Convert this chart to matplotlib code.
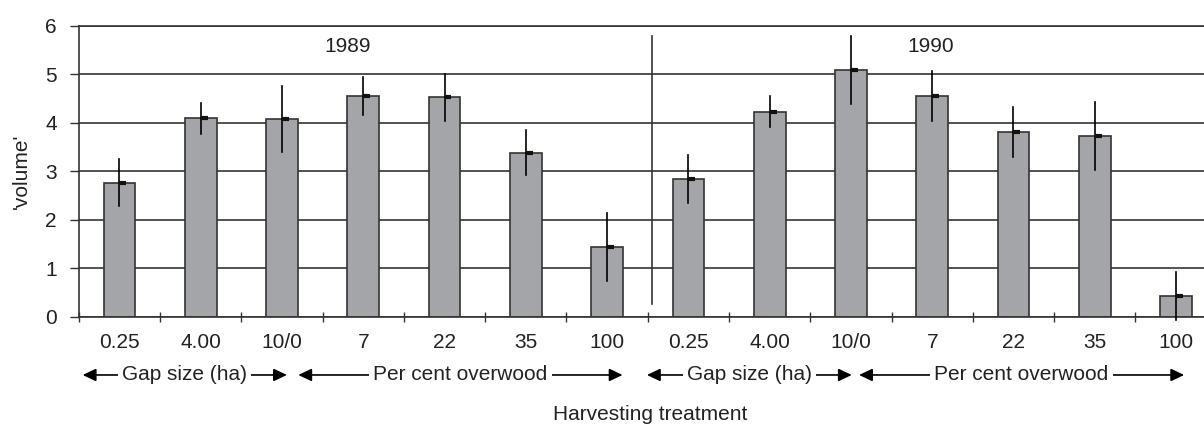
import matplotlib.pyplot as plt
import matplotlib.transforms as mtransforms

plt.rcParams['font.family'] = ['Liberation Sans', 'DejaVu Sans']

# Treatments per year: three gap sizes then four overwood retention levels
treatments = ['0.25', '4.00', '10/0', '7', '22', '35', '100']
years = ['1989', '1990']

volume_1989 = [2.76, 4.09, 4.07, 4.55, 4.52, 3.38, 1.44]
volume_1990 = [2.84, 4.22, 5.09, 4.55, 3.81, 3.73, 0.42]
se_1989 = [0.48, 0.32, 0.68, 0.39, 0.48, 0.47, 0.70]
se_1990 = [0.50, 0.32, 0.70, 0.51, 0.51, 0.70, 0.50]

volumes = volume_1989 + volume_1990
errors = se_1989 + se_1990
labels = treatments + treatments
n = len(volumes)
x = [i + 0.5 for i in range(n)]

ink = '#333333'
bar_grey = '#a4a5a9'

fig = plt.figure(figsize=(12.04, 4.26), dpi=100)
ax = fig.add_axes([0.0655, 0.257, 0.9345, 0.6827])

ax.bar(x, volumes, width=0.39, color=bar_grey, edgecolor=ink, linewidth=1.2, zorder=2)

# standard error whiskers and a short mean tick on each bar
for xi, v, e in zip(x, volumes, errors):
    ax.plot([xi, xi], [v - e, v + e], color='black', lw=1.2, zorder=3, clip_on=False)
ax.hlines(volumes, [xi for xi in x], [xi + 0.085 for xi in x], color='#111111', lw=3.0, zorder=4)

ax.set_xlim(0, 13.844)
ax.set_ylim(0, 6)
ax.set_yticks(range(0, 7))
ax.yaxis.grid(True, color=ink, lw=1.2, zorder=0)
ax.set_axisbelow(True)

ax.spines['right'].set_visible(False)
for side in ['left', 'bottom', 'top']:
    ax.spines[side].set_color(ink)
    ax.spines[side].set_linewidth(1.2)

ax.tick_params(axis='y', direction='out', length=6.3, width=1.0, color=ink,
               labelsize=15, pad=9.5, labelcolor='#222222')

# category boundaries get tick marks, labels sit between them
ax.set_xticks(range(0, n))
ax.set_xticklabels([])
ax.tick_params(axis='x', which='major', direction='inout', length=6.5, width=1.0, color=ink)
ax.set_xticks(x, labels, minor=True)
ax.tick_params(axis='x', which='minor', length=0, labelsize=15, pad=12, labelcolor='#222222')

# divider between the two years
ax.plot([7.055, 7.055], [0.25, 5.79], color=ink, lw=1.2, zorder=1)
ax.text(3.305, 5.57, years[0], ha='center', va='center', fontsize=15, color='#222222')
ax.text(10.485, 5.57, years[1], ha='center', va='center', fontsize=15, color='#222222')

ax.set_ylabel("'volume'", fontsize=15, color='#222222')
ax.yaxis.set_label_coords(-0.043, 0.5)
ax.set_xlabel('Harvesting treatment', fontsize=15, color='#222222', va='top')
ax.xaxis.set_label_coords(0.508, -0.305)

# group brackets under the tick labels
trans = mtransforms.blended_transform_factory(ax.transData, ax.transAxes)
arrow_y = -0.201
groups = [(0.047, 2.56, 'Gap size (ha)'), (2.70, 6.69, 'Per cent overwood'),
          (6.99, 9.51, 'Gap size (ha)'), (9.60, 13.60, 'Per cent overwood')]
for left, right, name in groups:
    ax.annotate('', xy=(right, arrow_y), xytext=(left, arrow_y), xycoords=trans,
                textcoords=trans, annotation_clip=False, zorder=4,
                arrowprops=dict(arrowstyle='<|-|>,head_length=0.8,head_width=0.38',
                                color='black', lw=1.2, shrinkA=0, shrinkB=0))
    ax.text((left + right) / 2, arrow_y, name, transform=trans, ha='center', va='center',
            fontsize=15, color='#222222', zorder=5, clip_on=False,
            bbox=dict(boxstyle='square,pad=0.2', fc='white', ec='none'))

fig.savefig('out.png', dpi=100)
